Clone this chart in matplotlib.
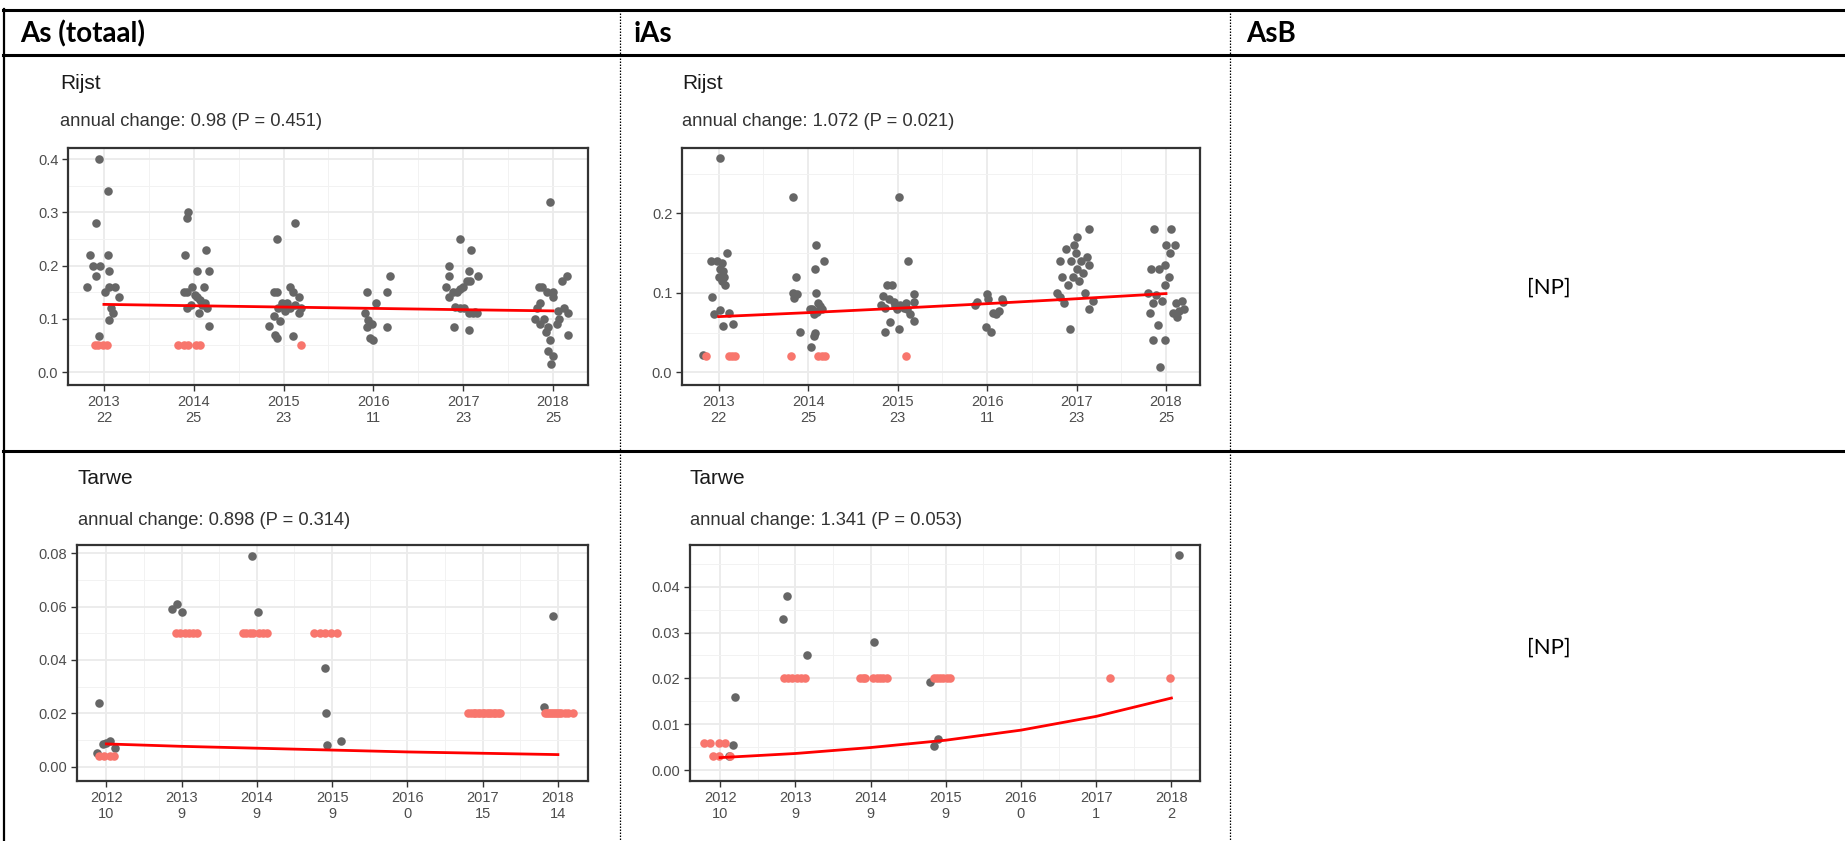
import matplotlib
matplotlib.use("Agg")
import matplotlib.pyplot as plt
from matplotlib.lines import Line2D
from matplotlib.ticker import FixedLocator, FormatStrFormatter

W, H = 1845, 841
fig = plt.figure(figsize=(W / 100, H / 100), dpi=100)
plt.rcParams['font.family'] = ['Liberation Sans', 'DejaVu Sans']

# ---------------- data ----------------
headers = ["As (totaal)", "iAs", "AsB"]
row_titles = ["Rijst", "Tarwe"]
subtitles = [["annual change: 0.98 (P = 0.451)", "annual change: 1.072 (P = 0.021)"],
             ["annual change: 0.898 (P = 0.314)", "annual change: 1.341 (P = 0.053)"]]
np_label = "[NP]"

rijst_years = [2013, 2014, 2015, 2016, 2017, 2018]
as_rijst_counts = [22, 25, 23, 11, 23, 25]
ias_rijst_counts = [22, 25, 23, 11, 23, 25]
tarwe_years = [2012, 2013, 2014, 2015, 2016, 2017, 2018]
as_tarwe_counts = [10, 9, 9, 9, 0, 15, 14]
ias_tarwe_counts = [10, 9, 9, 9, 0, 1, 2]

# As (totaal) - Rijst
as_rijst_gray_x = [2012.94, 2013.04, 2012.91, 2012.85, 2013.05, 2012.88, 2012.96, 2012.91, 2013.06,
                   2012.81, 2013.01, 2013.06, 2013.12, 2013.17, 2013.08, 2013.10, 2013.06, 2012.95,
                   2013.94, 2013.92, 2013.90, 2014.14, 2014.04, 2014.17, 2013.89, 2013.93, 2013.98,
                   2014.11, 2014.01, 2014.04, 2014.07, 2013.93, 2014.06, 2014.13, 2014.15, 2014.09,
                   2013.97, 2014.17,
                   2014.93, 2015.13, 2014.89, 2014.93, 2015.07, 2015.11, 2015.17, 2014.98, 2014.94,
                   2015.00, 2015.07, 2015.19, 2015.17, 2015.04, 2014.89, 2014.96, 2014.84, 2014.91,
                   2014.93, 2015.10, 2015.02, 2015.13,
                   2015.93, 2016.15, 2016.19, 2016.03, 2015.91, 2015.94, 2015.98, 2015.93, 2016.15,
                   2015.96, 2016.00,
                   2016.97, 2017.09, 2016.84, 2016.84, 2017.07, 2017.17, 2016.81, 2017.04, 2017.00,
                   2016.97, 2016.93, 2016.89, 2016.84, 2016.91, 2016.97, 2017.06, 2017.11, 2017.15,
                   2016.90, 2017.07, 2017.01, 2017.08, 2017.13,
                   2017.97, 2017.84, 2017.88, 2017.93, 2018.10, 2018.16, 2018.00, 2017.82, 2018.12,
                   2018.17, 2017.90, 2017.86, 2017.95, 2018.06, 2018.07, 2018.17, 2017.92, 2017.97,
                   2017.94, 2018.00, 2017.98, 2017.80, 2018.00, 2018.05, 2017.85]
as_rijst_gray_y = [0.40, 0.34, 0.28, 0.22, 0.22, 0.20, 0.20, 0.18, 0.19,
                   0.16, 0.15, 0.16, 0.16, 0.14, 0.12, 0.11, 0.097, 0.067,
                   0.30, 0.29, 0.22, 0.23, 0.19, 0.19, 0.15, 0.15, 0.16,
                   0.16, 0.145, 0.14, 0.135, 0.12, 0.11, 0.13, 0.12, 0.125,
                   0.125, 0.086,
                   0.25, 0.28, 0.15, 0.15, 0.16, 0.15, 0.14, 0.13, 0.12,
                   0.123, 0.12, 0.12, 0.11, 0.13, 0.105, 0.095, 0.086, 0.07,
                   0.064, 0.068, 0.115, 0.125,
                   0.15, 0.15, 0.18, 0.13, 0.11, 0.098, 0.09, 0.085, 0.085,
                   0.063, 0.06,
                   0.25, 0.23, 0.20, 0.18, 0.19, 0.18, 0.16, 0.17, 0.16,
                   0.155, 0.15, 0.15, 0.14, 0.123, 0.12, 0.11, 0.11, 0.11,
                   0.085, 0.078, 0.12, 0.17, 0.112,
                   0.32, 0.16, 0.16, 0.15, 0.17, 0.18, 0.14, 0.12, 0.12,
                   0.11, 0.10, 0.09, 0.085, 0.115, 0.10, 0.07, 0.075, 0.06,
                   0.04, 0.03, 0.015, 0.10, 0.15, 0.09, 0.13]
as_rijst_red_x = [2012.90, 2012.93, 2012.99, 2013.03,
                  2013.83, 2013.89, 2013.94, 2014.02, 2014.07,
                  2015.19]
as_rijst_red_y = [0.05] * 10
as_rijst_trend = [0.127, 0.1245, 0.122, 0.1195, 0.117, 0.1148]

# iAs - Rijst
ias_rijst_gray_x = [2013.02, 2012.91, 2012.98, 2013.04, 2013.09, 2013.02, 2013.05, 2013.00, 2013.06,
                    2013.04, 2013.07, 2012.93, 2012.95, 2013.01, 2013.11, 2013.05, 2013.16, 2012.83,
                    2013.83, 2013.86, 2013.83, 2013.87, 2013.84, 2013.91, 2014.09, 2014.08, 2014.18,
                    2014.09, 2014.11, 2014.02, 2014.06, 2014.15, 2014.07, 2014.08, 2014.07, 2014.03,
                    2014.13, 2014.04, 2014.10,
                    2015.01, 2015.12, 2014.88, 2014.94, 2014.84, 2014.90, 2014.96, 2014.81, 2014.86,
                    2015.03, 2015.07, 2014.99, 2015.18, 2015.18, 2015.10, 2015.14, 2015.18, 2014.91,
                    2014.86, 2015.02, 2014.97, 2015.09,
                    2015.89, 2015.87, 2016.00, 2016.01, 2016.17, 2016.18, 2016.13, 2016.10, 2016.07,
                    2015.99, 2016.04,
                    2017.14, 2017.01, 2016.88, 2016.97, 2016.81, 2016.94, 2017.05, 2017.14, 2016.84,
                    2016.96, 2017.07, 2016.78, 2017.18, 2017.14, 2016.86, 2016.93, 2017.00, 2016.90,
                    2017.03, 2017.10, 2016.99, 2017.12, 2016.82,
                    2017.87, 2018.06, 2018.00, 2018.10, 2018.04, 2017.83, 2017.92, 2017.80, 2017.89,
                    2017.86, 2017.82, 2017.99, 2018.11, 2018.18, 2018.20, 2018.08, 2018.12, 2017.91,
                    2017.86, 2017.99, 2017.93, 2017.99, 2018.14, 2018.03, 2017.95]
ias_rijst_gray_y = [0.27, 0.14, 0.14, 0.138, 0.15, 0.13, 0.127, 0.12, 0.12,
                    0.115, 0.11, 0.095, 0.073, 0.078, 0.074, 0.058, 0.061, 0.022,
                    0.22, 0.12, 0.10, 0.098, 0.094, 0.051, 0.16, 0.13, 0.14,
                    0.10, 0.087, 0.079, 0.077, 0.079, 0.073, 0.049, 0.045, 0.032,
                    0.083, 0.08, 0.076,
                    0.22, 0.14, 0.11, 0.11, 0.096, 0.092, 0.088, 0.085, 0.081,
                    0.085, 0.081, 0.079, 0.098, 0.089, 0.079, 0.073, 0.065, 0.063,
                    0.051, 0.054, 0.083, 0.087,
                    0.089, 0.085, 0.098, 0.092, 0.092, 0.088, 0.077, 0.073, 0.075,
                    0.057, 0.051,
                    0.18, 0.17, 0.155, 0.16, 0.14, 0.14, 0.14, 0.135, 0.12,
                    0.12, 0.125, 0.10, 0.09, 0.08, 0.087, 0.055, 0.13, 0.11,
                    0.115, 0.10, 0.15, 0.145, 0.095,
                    0.18, 0.18, 0.16, 0.16, 0.15, 0.13, 0.13, 0.10, 0.097,
                    0.087, 0.075, 0.11, 0.087, 0.09, 0.08, 0.075, 0.07, 0.06,
                    0.04, 0.04, 0.007, 0.135, 0.077, 0.12, 0.09]
ias_rijst_red_x = [2012.86, 2013.11, 2013.15, 2013.18,
                   2013.81, 2014.11, 2014.15, 2014.19,
                   2015.09]
ias_rijst_red_y = [0.02] * 9
ias_rijst_trend = [0.070, 0.075, 0.0805, 0.0863, 0.0925, 0.099]

# As (totaal) - Tarwe
as_tarwe_gray_x = [2011.90, 2011.88, 2011.95, 2012.00, 2012.05, 2012.12,
                   2012.87, 2012.94, 2013.00,
                   2013.93, 2014.02,
                   2014.91, 2014.92, 2014.93, 2015.12,
                   2017.94, 2017.81]
as_tarwe_gray_y = [0.024, 0.005, 0.0085, 0.009, 0.0095, 0.007,
                   0.059, 0.061, 0.058,
                   0.079, 0.058,
                   0.037, 0.020, 0.008, 0.0095,
                   0.0565, 0.0222]
as_tarwe_red_x = [2011.90, 2011.97, 2012.05, 2012.10,
                  2012.92, 2012.98, 2013.05, 2013.10, 2013.15, 2013.21,
                  2013.82, 2013.86, 2013.91, 2013.95, 2014.03, 2014.08, 2014.14,
                  2014.76, 2014.84, 2014.91, 2014.99, 2015.07,
                  2016.81, 2016.84, 2016.88, 2016.90, 2016.94, 2016.97, 2017.00, 2017.02,
                  2017.06, 2017.09, 2017.11, 2017.15, 2017.17, 2017.20, 2017.23,
                  2017.83, 2017.86, 2017.88, 2017.91, 2017.93, 2017.96, 2017.99, 2018.01,
                  2018.04, 2018.10, 2018.14, 2018.20]
as_tarwe_red_y = ([0.004] * 4 + [0.05] * 6 + [0.05] * 7 + [0.05] * 5 +
                  [0.02] * 15 + [0.02] * 12)
as_tarwe_trend = [0.0085, 0.0076, 0.0069, 0.0062, 0.0055, 0.0050, 0.0045]

# iAs - Tarwe
ias_tarwe_gray_x = [2012.20, 2012.12, 2012.17,
                    2012.89, 2012.83, 2013.16,
                    2014.05,
                    2014.79, 2014.85, 2014.90,
                    2018.10]
ias_tarwe_gray_y = [0.016, 0.003, 0.0055,
                    0.038, 0.033, 0.0251,
                    0.028,
                    0.0191, 0.0052, 0.0068,
                    0.047]
ias_tarwe_red_x = [2011.79, 2011.86, 2011.99, 2012.07, 2011.90, 2011.98, 2012.13,
                   2012.85, 2012.90, 2012.96, 2013.02, 2013.08, 2013.13,
                   2013.86, 2013.90, 2013.93, 2014.03, 2014.08, 2014.12, 2014.17, 2014.22,
                   2014.84, 2014.88, 2014.93, 2014.97, 2015.02, 2015.06,
                   2017.18,
                   2017.98]
ias_tarwe_red_y = ([0.006] * 4 + [0.003] * 3 + [0.02] * 6 + [0.02] * 8 + [0.02] * 6 +
                   [0.02] + [0.02])
ias_tarwe_trend = [0.0027, 0.0036, 0.0049, 0.0065, 0.0087, 0.0117, 0.0157]

# ---------------- helpers ----------------
def fx(x):
    return x / W


def fy(y):
    return 1 - y / H


GRAY = '#666666'
RED = '#F8766D'
GRID = '#EBEBEB'


def panel(rect, xlim, ylim, ymajor, yminor, yfmt, years, counts, gx, gy, rx, ry, trend):
    l, t, r, b = rect
    ax = fig.add_axes([fx(l), fy(b), (r - l) / W, (b - t) / H])
    ax.set_xlim(*xlim)
    ax.set_ylim(*ylim)
    ax.xaxis.set_major_locator(FixedLocator(years))
    ax.xaxis.set_minor_locator(FixedLocator([y + 0.5 for y in years[:-1]]))
    ax.set_xticklabels([f"{y}\n{n}" for y, n in zip(years, counts)])
    ax.yaxis.set_major_locator(FixedLocator(ymajor))
    ax.yaxis.set_minor_locator(FixedLocator(yminor))
    ax.yaxis.set_major_formatter(FormatStrFormatter(yfmt))
    ax.grid(which='major', color=GRID, lw=1.3, zorder=0)
    ax.grid(which='minor', color='#F2F2F2', lw=0.7, zorder=0)
    ax.set_axisbelow(True)
    for s in ax.spines.values():
        s.set_color('#333333')
        s.set_linewidth(1.6)
    ax.tick_params(which='major', length=4, width=1.0, color='#333333',
                   labelcolor='#4D4D4D', labelsize=10.5, pad=3)
    ax.tick_params(which='minor', length=0)
    for lab in ax.get_xticklabels():
        lab.set_linespacing(1.25)
    ax.scatter(gx, gy, s=38, color=GRAY, lw=0, zorder=3)
    ax.scatter(rx, ry, s=38, color=RED, lw=0, zorder=4)
    ax.plot(years, trend, color='#FF0000', lw=2.0, zorder=5)
    return ax


panel((68, 148, 588, 385), (2012.6, 2018.39), (-0.0244, 0.4207),
      [0.0, 0.1, 0.2, 0.3, 0.4], [0.05, 0.15, 0.25, 0.35], '%.1f',
      rijst_years, as_rijst_counts, as_rijst_gray_x, as_rijst_gray_y,
      as_rijst_red_x, as_rijst_red_y, as_rijst_trend)
panel((682, 148, 1200, 385), (2012.59, 2018.38), (-0.0161, 0.2823),
      [0.0, 0.1, 0.2], [0.05, 0.15, 0.25], '%.1f',
      rijst_years, ias_rijst_counts, ias_rijst_gray_x, ias_rijst_gray_y,
      ias_rijst_red_x, ias_rijst_red_y, ias_rijst_trend)
panel((77, 545, 588, 781), (2011.61, 2018.40), (-0.0054, 0.0831),
      [0.0, 0.02, 0.04, 0.06, 0.08], [0.01, 0.03, 0.05, 0.07], '%.2f',
      tarwe_years, as_tarwe_counts, as_tarwe_gray_x, as_tarwe_gray_y,
      as_tarwe_red_x, as_tarwe_red_y, as_tarwe_trend)
panel((690, 545, 1200, 781), (2011.60, 2018.38), (-0.0024, 0.0491),
      [0.0, 0.01, 0.02, 0.03, 0.04], [0.005, 0.015, 0.025, 0.035, 0.045], '%.2f',
      tarwe_years, ias_tarwe_counts, ias_tarwe_gray_x, ias_tarwe_gray_y,
      ias_tarwe_red_x, ias_tarwe_red_y, ias_tarwe_trend)

# ---------------- titles ----------------
title_pos = [[(60, 89), (682, 89)], [(78, 484), (690, 484)]]
sub_pos = [[(60, 126), (682, 126)], [(78, 525), (690, 525)]]
for i in range(2):
    for j in range(2):
        x, y = title_pos[i][j]
        fig.text(fx(x), fy(y), row_titles[i], fontsize=15, color='#1A1A1A', va='baseline')
        x, y = sub_pos[i][j]
        fig.text(fx(x), fy(y), subtitles[i][j], fontsize=13.2, color='#333333', va='baseline')

# ---------------- table ----------------
def hline(y, x0, x1, lw=2.2):
    fig.add_artist(Line2D([fx(x0), fx(x1)], [fy(y), fy(y)], color='black', lw=lw,
                          transform=fig.transFigure))


def vline(x, y0, y1, lw=1.0, ls='-'):
    fig.add_artist(Line2D([fx(x), fx(x)], [fy(y0), fy(y1)], color='black', lw=lw, ls=ls,
                          transform=fig.transFigure))


hline(10, 3, W)
hline(55, 3, W)
hline(451, 3, W)
vline(4, 9, H, lw=1.6)
vline(620, 10, H, lw=0.9, ls=(0, (1.2, 1.2)))
vline(1230, 10, H, lw=0.9, ls=(0, (1.2, 1.2)))

header_x = [20, 634, 1246]
for hx, ht in zip(header_x, headers):
    fig.text(fx(hx), fy(42), ht, fontsize=20, fontweight='bold', family=['Lato', 'DejaVu Sans'],
             va='baseline', color='black')

fig.text(fx(1549), fy(288), np_label, fontsize=16, family=['Lato', 'DejaVu Sans'],
         ha='center', va='center')
fig.text(fx(1549), fy(648), np_label, fontsize=16, family=['Lato', 'DejaVu Sans'],
         ha='center', va='center')

fig.savefig('out.png', dpi=100)
